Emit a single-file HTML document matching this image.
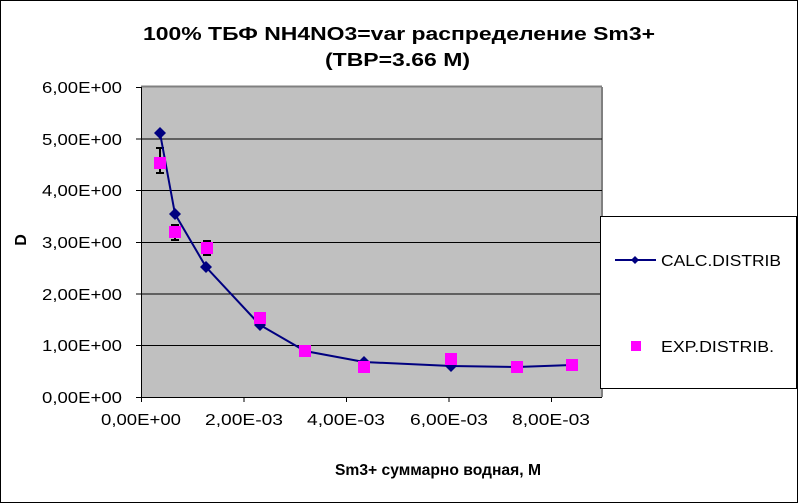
<!DOCTYPE html>
<html><head><meta charset="utf-8"><style>
body{margin:0;background:#fff}
svg{display:block;font-family:"Liberation Sans",Arial,sans-serif}
</style></head><body>
<svg width="798" height="503" viewBox="0 0 798 503">
<rect x="0.5" y="0.5" width="797" height="502" fill="#fff" stroke="#000"/>
<text x="143" y="40" font-size="18" font-weight="bold" textLength="512" lengthAdjust="spacingAndGlyphs">100%  ТБФ  NH4NO3=var распределение Sm3+</text>
<text x="325" y="66" font-size="18" font-weight="bold" textLength="145" lengthAdjust="spacingAndGlyphs">(TBP=3.66 M)</text>
<rect x="141" y="87" width="461" height="310" fill="#c0c0c0"/>
<path d="M141 86.5H602M602 87V397" stroke="#808080" stroke-width="2" fill="none"/>
<g stroke="#000" stroke-width="1">
<line x1="141" y1="139" x2="602" y2="139"/>
<line x1="141" y1="190.5" x2="602" y2="190.5"/>
<line x1="141" y1="242.5" x2="602" y2="242.5"/>
<line x1="141" y1="294" x2="602" y2="294"/>
<line x1="141" y1="345.5" x2="602" y2="345.5"/>
<line x1="141.5" y1="87" x2="141.5" y2="397"/>
<line x1="141" y1="397.5" x2="602" y2="397.5"/>
<line x1="136" y1="87.5" x2="141" y2="87.5"/>
<line x1="136" y1="139" x2="141" y2="139"/>
<line x1="136" y1="190.5" x2="141" y2="190.5"/>
<line x1="136" y1="242.5" x2="141" y2="242.5"/>
<line x1="136" y1="294" x2="141" y2="294"/>
<line x1="136" y1="345.5" x2="141" y2="345.5"/>
<line x1="136" y1="397.5" x2="141" y2="397.5"/>
<line x1="141.5" y1="397" x2="141.5" y2="402"/>
<line x1="244" y1="397" x2="244" y2="402"/>
<line x1="346.5" y1="397" x2="346.5" y2="402"/>
<line x1="449" y1="397" x2="449" y2="402"/>
<line x1="551.5" y1="397" x2="551.5" y2="402"/>
</g>
<g font-size="16">
<text x="42" y="93" textLength="80" lengthAdjust="spacingAndGlyphs">6,00E+00</text>
<text x="42" y="145" textLength="80" lengthAdjust="spacingAndGlyphs">5,00E+00</text>
<text x="42" y="196" textLength="80" lengthAdjust="spacingAndGlyphs">4,00E+00</text>
<text x="42" y="248" textLength="80" lengthAdjust="spacingAndGlyphs">3,00E+00</text>
<text x="42" y="300" textLength="80" lengthAdjust="spacingAndGlyphs">2,00E+00</text>
<text x="42" y="351" textLength="80" lengthAdjust="spacingAndGlyphs">1,00E+00</text>
<text x="42" y="403" textLength="80" lengthAdjust="spacingAndGlyphs">0,00E+00</text>
</g>
<g font-size="16">
<text x="101" y="425" textLength="80" lengthAdjust="spacingAndGlyphs">0,00E+00</text>
<text x="205" y="425" textLength="78" lengthAdjust="spacingAndGlyphs">2,00E-03</text>
<text x="307" y="425" textLength="78" lengthAdjust="spacingAndGlyphs">4,00E-03</text>
<text x="410" y="425" textLength="78" lengthAdjust="spacingAndGlyphs">6,00E-03</text>
<text x="512" y="425" textLength="78" lengthAdjust="spacingAndGlyphs">8,00E-03</text>
</g>
<text x="335" y="475" font-size="16" font-weight="bold" textLength="206" lengthAdjust="spacingAndGlyphs">Sm3+ суммарно   водная, М</text>
<text x="20" y="246" font-size="16" font-weight="bold" text-anchor="middle" transform="rotate(-90 20 240)">D</text>
<g stroke="#000" stroke-width="2">
<path d="M160 148V173M156 148H164M156 173H164"/>
<path d="M175 225V240M171 225H179M171 240H179"/>
<path d="M207 241V255M203 241H211M203 255H211"/>
</g>
<polyline points="160,133 175,214 206,267 260,325 305,351 364,362 451,366 517,367 572,365" fill="none" stroke="#000080" stroke-width="2"/>
<g fill="#000080">
<path d="M160 127l6 6-6 6-6-6z"/><path d="M175 208l6 6-6 6-6-6z"/><path d="M206 261l6 6-6 6-6-6z"/>
<path d="M260 319l6 6-6 6-6-6z"/><path d="M305 345l6 6-6 6-6-6z"/><path d="M364 356l6 6-6 6-6-6z"/>
<path d="M451 360l6 6-6 6-6-6z"/><path d="M517 361l6 6-6 6-6-6z"/><path d="M572 359l6 6-6 6-6-6z"/>
</g>
<g fill="#ff00ff">
<rect x="154" y="157" width="12" height="12"/><rect x="169" y="226" width="12" height="12"/>
<rect x="201" y="242" width="12" height="12"/><rect x="254" y="312" width="12" height="12"/>
<rect x="299" y="345" width="12" height="12"/><rect x="358" y="361" width="12" height="12"/>
<rect x="445" y="353" width="12" height="12"/><rect x="511" y="361" width="12" height="12"/>
<rect x="566" y="359" width="12" height="12"/>
</g>
<rect x="600.5" y="216.5" width="196" height="172" fill="#fff" stroke="#000"/>
<line x1="615" y1="260" x2="656" y2="260" stroke="#000080" stroke-width="2"/>
<path d="M635 256l4 4-4 4-4-4z" fill="#000080"/>
<text x="661" y="266" font-size="16" textLength="120" lengthAdjust="spacingAndGlyphs">CALC.DISTRIB</text>
<rect x="631" y="341" width="10" height="10" fill="#ff00ff"/>
<text x="661" y="352" font-size="16" textLength="113" lengthAdjust="spacingAndGlyphs">EXP.DISTRIB.</text>
</svg>
</body></html>
